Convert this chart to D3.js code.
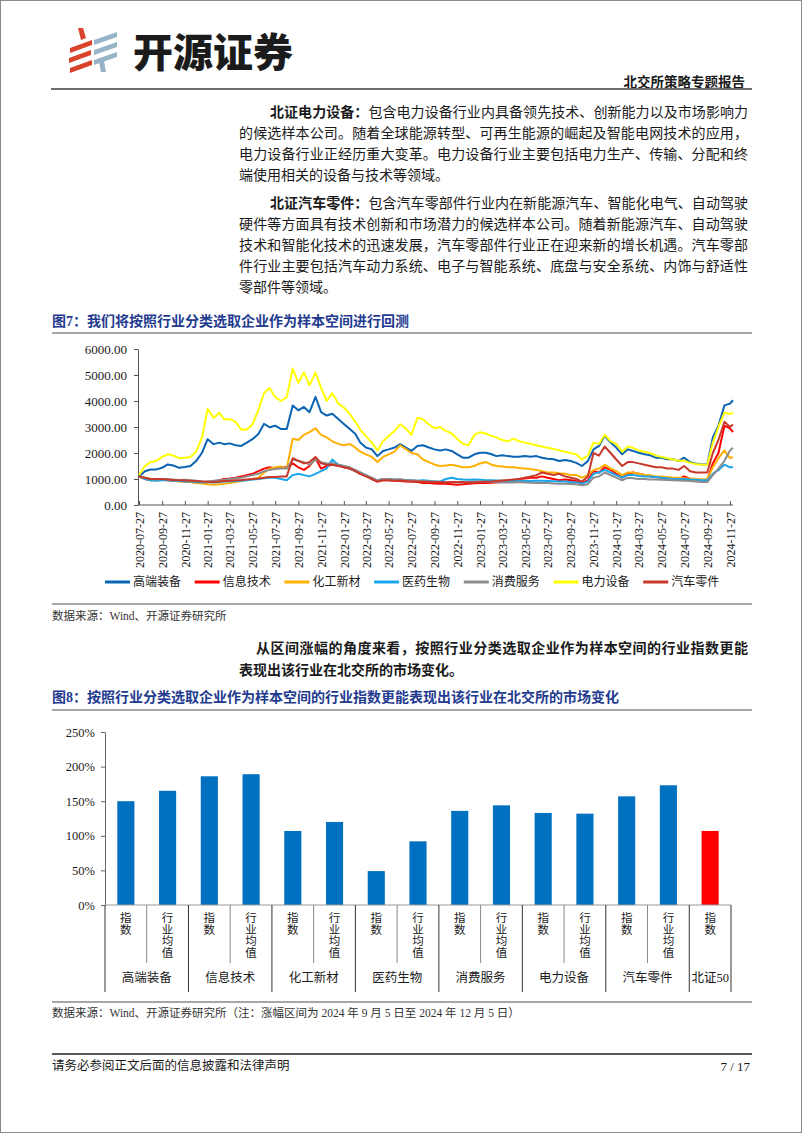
<!DOCTYPE html>
<html><head><meta charset="utf-8">
<script src="https://cdn.jsdelivr.net/npm/d3@7"></script>
<style>
html,body{margin:0;padding:0;background:#fff;}
svg{display:block;}
</style></head><body>
<svg id="page" width="802" height="1133"></svg>
<script>
// ---------------- DATA ----------------
const lineSeriesNames = ["高端装备","信息技术","化工新材","医药生物","消费服务","电力设备","汽车零件"];
const lineYTicks = [0,1000,2000,3000,4000,5000,6000];
const lineXTicks = ["2020-07-27","2020-09-27","2020-11-27","2021-01-27","2021-03-27","2021-05-27","2021-07-27","2021-09-27","2021-11-27",
  "2022-01-27","2022-03-27","2022-05-27","2022-07-27","2022-09-27","2022-11-27","2023-01-27","2023-03-27","2023-05-27","2023-07-27",
  "2023-09-27","2023-11-27","2024-01-27","2024-03-27","2024-05-27","2024-07-27","2024-09-27","2024-11-27"];
// observation dates: the 27th and the 12th of each month, 2020-07-27 .. 2024-11-27, plus 2024-12-05
const obsDates = [];
for (let m = 0; m <= 52; m++) {
  obsDates.push(new Date(2020, 6 + m, 27));
  if (m < 52) obsDates.push(new Date(2020, 7 + m, 12));
}
obsDates.push(new Date(2024, 11, 5));

const gaoduan = [1100,1300,1365,1370,1430,1560,1520,1430,1460,1500,
  1690,2010,2530,2340,2400,2340,2370,2300,2270,2400,
  2530,2730,3120,2990,3050,2920,2920,3830,3640,3770,
  3570,4160,3570,3440,3510,3310,3120,2920,2730,2400,
  2210,2140,1880,2080,2140,2210,2340,2210,2080,2270,
  2300,2210,2140,2100,2140,2080,1950,1820,1820,1950,
  2010,2010,1950,1880,1910,1880,1860,1860,1880,1860,
  1880,1820,1780,1760,1690,1730,1690,1620,1500,1690,
  2140,2270,2660,2400,2210,1950,2140,2080,2010,1950,
  1910,1820,1820,1760,1760,1690,1820,1650,1600,1560,
  1560,2600,3050,3830,3900,4030];
const xinxi = [1100,1000,950,960,970,950,930,920,900,880,
  860,850,870,900,950,1000,1020,1050,1100,1150,
  1200,1300,1400,1450,1400,1450,1450,1600,1450,1350,
  1500,1800,1400,1500,1550,1550,1450,1400,1300,1200,
  1150,1000,900,950,950,930,920,900,900,880,
  850,850,830,820,820,800,780,800,820,840,
  850,850,860,870,880,900,950,1000,1020,1050,
  1050,1100,1050,1000,950,980,950,920,850,950,
  1300,1250,1450,1350,1200,1050,1200,1250,1200,1150,
  1100,1080,1050,1050,1020,1000,1100,1000,980,960,
  960,1600,2000,3050,2950,2800];
const huagong = [1100,1000,950,950,980,950,950,900,900,880,
  850,830,800,780,800,820,850,880,920,960,
  1000,1050,1250,1400,1450,1480,1400,2550,2500,2700,
  2800,2950,2700,2600,2450,2350,2300,2350,2200,2050,
  1950,1850,1650,1850,1950,2050,2300,2150,2000,1950,
  1750,1650,1550,1500,1520,1550,1500,1450,1450,1500,
  1600,1650,1550,1500,1480,1450,1450,1420,1400,1380,
  1350,1300,1250,1250,1220,1200,1150,1150,1050,1150,
  1350,1400,1550,1400,1300,1150,1250,1250,1200,1150,
  1150,1100,1100,1080,1050,1050,1030,1020,1000,980,
  1000,1450,1800,2100,1800,1850];
const yiyao = [1100,1000,950,930,950,950,930,920,900,900,
  880,870,880,870,880,900,900,920,930,950,
  980,1000,1030,1050,1050,1000,950,1150,1200,1150,
  1100,1200,1300,1400,1750,1550,1500,1400,1300,1250,
  1150,1000,950,1000,1000,980,980,950,950,930,
  950,930,900,900,1000,1050,1000,980,970,980,
  970,950,950,940,930,920,920,920,920,920,
  930,930,920,910,900,900,880,870,830,900,
  1200,1250,1350,1250,1150,1050,1150,1150,1120,1100,
  1100,1080,1050,1030,1000,1000,1000,980,970,950,
  950,1200,1350,1550,1450,1450];
const xiaofei = [1100,1050,1000,980,1000,990,980,950,970,950,
  930,900,900,930,950,970,1000,1030,1050,1100,
  1150,1200,1300,1350,1380,1400,1400,1750,1700,1650,
  1550,1750,1650,1600,1600,1550,1500,1450,1350,1250,
  1150,1050,950,1000,1000,980,980,960,950,930,
  920,910,900,880,880,880,870,870,880,890,
  900,890,880,880,870,870,870,880,870,860,
  850,850,850,830,820,820,810,800,760,800,
  1050,1100,1250,1150,1050,950,1050,1030,1000,1000,
  980,980,970,960,950,940,930,920,900,880,
  880,1150,1400,1700,2100,2200];
const dianli = [1150,1500,1650,1700,1850,1950,1900,1800,1820,1850,
  2050,2600,3700,3350,3550,3300,3300,3200,2900,2900,
  3100,3650,4300,4500,4150,4000,4150,5250,4700,5100,
  4600,5100,4500,4000,4300,3900,3750,3500,3200,2900,
  2650,2400,2100,2450,2650,2850,3100,2950,2700,3350,
  3300,3100,2950,3000,2850,2750,2550,2350,2300,2700,
  2800,2750,2650,2600,2500,2450,2550,2450,2400,2350,
  2300,2250,2200,2150,2100,2050,2000,1950,1750,1900,
  2400,2350,2700,2450,2350,2050,2250,2200,2100,2050,
  2000,1900,1850,1800,1750,1700,1700,1620,1580,1550,
  1550,2400,3000,3550,3500,3550];
const qiche = [1100,1050,1000,1000,1000,980,960,950,940,930,
  920,900,890,880,900,920,930,950,960,980,
  1000,1020,1050,1080,1080,1100,1100,1800,1700,1600,
  1650,1850,1600,1550,1550,1500,1450,1400,1300,1200,
  1100,1000,900,950,950,930,940,920,900,900,
  890,880,880,880,870,880,880,880,870,870,
  880,890,900,920,940,960,980,1000,1050,1100,
  1150,1250,1200,1150,1200,1100,1050,1000,900,1100,
  2000,1900,2250,2000,1750,1500,1650,1650,1600,1550,
  1500,1450,1450,1400,1400,1350,1500,1300,1250,1250,
  1250,2000,2500,3200,3000,3100];
const lineSeries = [gaoduan, xinxi, huagong, yiyao, xiaofei, dianli, qiche];

const barGroups = ["高端装备","信息技术","化工新材","医药生物","消费服务","电力设备","汽车零件","北证50"];
const barSubLabels = ["指数","行业均值"];
const indexGains = [150,186,107,49,136,133,157];
const industryAvgGains = [165,189,120,92,144,132,173];
const bz50Gain = 107;
const barYTicks = [0,50,100,150,200,250];

// ---------------- STYLES ----------------
const lineColors = ["#0a64b4","#ff0000","#ffb000","#1aa6ea","#8c8c8c","#ffff00","#c8392b"];
const SERIF = "'Liberation Serif','Times New Roman','Noto Sans CJK SC',serif";
const CJK = "'Noto Sans CJK SC','Liberation Serif',sans-serif";
const titleBlue = "#1f3b8f";

const svg = d3.select("#page").style("font-family", SERIF);
svg.append("rect").attr("x",0.5).attr("y",0.5).attr("width",801).attr("height",1132)
  .attr("fill","#fff").attr("stroke","#8a8a8a");

function text(x, y, str, o = {}) {
  const t = svg.append("text").attr("x", x).attr("y", y)
    .attr("dominant-baseline", "central")
    .style("font-size", (o.size || 14) + "px")
    .style("font-weight", o.bold ? "bold" : "normal")
    .style("fill", o.color || "#1a1a1a")
    .attr("text-anchor", o.anchor || "start");
  if (o.family) t.style("font-family", o.family);
  if (Array.isArray(str)) {
    str.forEach(p => t.append("tspan").text(p[0]).style("font-weight", p[1] ? "bold" : "normal"));
  } else t.text(str);
  if (o.width) t.attr("textLength", o.width).attr("lengthAdjust", "spacing");
  return t;
}
function hline(x1, x2, y, color, w) {
  svg.append("line").attr("x1",x1).attr("x2",x2).attr("y1",y).attr("y2",y)
    .attr("stroke",color).attr("stroke-width",w);
}

// ---------------- HEADER ----------------
const logo = svg.append("g");
const red = "#d9432c", steel = "#97b4c6";
[[70,48],[69,58],[70,68]].forEach(([x,y]) => {
  logo.append("path").attr("d", `M${x},${y} L${x+22},${y-8} L${x+22},${y-3} L${x},${y+5} Z`).attr("fill", red);
});
logo.append("path").attr("d","M78,28 L83,28 L86,38 L81,40 Z").attr("fill", red);
[[94,40],[94,50],[94,60]].forEach(([x,y]) => {
  logo.append("path").attr("d", `M${x},${y} L${x+23},${y-8} L${x+23},${y-3} L${x},${y+5} Z`).attr("fill", steel);
});
logo.append("path").attr("d","M99,62 L104,61 L106,72 L101,72 Z").attr("fill", steel);
text(133, 50, "开源证券", {size: 40, bold: true, family: CJK, color: "#1b1b1b"}).style("font-weight", 900);
text(745, 82, "北交所策略专题报告", {size: 13.5, bold: true, anchor: "end"});
hline(51, 752, 89, "#6e6e6e", 2);

// ---------------- PARAGRAPHS ----------------
const colL = 239, colR = 748, ind = 270, lh = 21;
const p1 = 112, p2 = 203;
text(ind, p1, [["北证电力设备：",1],["包含电力设备行业内具备领先技术、创新能力以及市场影响力",0]], {width: colR-ind});
text(colL, p1 + lh, "的候选样本公司。随着全球能源转型、可再生能源的崛起及智能电网技术的应用，", {width: colR-colL});
text(colL, p1 + 2*lh, "电力设备行业正经历重大变革。电力设备行业主要包括电力生产、传输、分配和终", {width: colR-colL});
text(colL, p1 + 3*lh, "端使用相关的设备与技术等领域。");
text(ind, p2, [["北证汽车零件：",1],["包含汽车零部件行业内在新能源汽车、智能化电气、自动驾驶",0]], {width: colR-ind});
text(colL, p2 + lh, "硬件等方面具有技术创新和市场潜力的候选样本公司。随着新能源汽车、自动驾驶", {width: colR-colL});
text(colL, p2 + 2*lh, "技术和智能化技术的迅速发展，汽车零部件行业正在迎来新的增长机遇。汽车零部", {width: colR-colL});
text(colL, p2 + 3*lh, "件行业主要包括汽车动力系统、电子与智能系统、底盘与安全系统、内饰与舒适性", {width: colR-colL});
text(colL, p2 + 4*lh, "零部件等领域。");

// ---------------- FIGURE 7 ----------------
text(52, 321, "图7：我们将按照行业分类选取企业作为样本空间进行回测", {size: 14, bold: true, color: titleBlue});
hline(52, 752, 333, "#8a8a8a", 1.5);

const xL = d3.scaleTime().domain([new Date(2020,6,27), new Date(2024,11,5)]).range([139, 733]);
const yL = d3.scaleLinear().domain([0, 6000]).range([505, 349]);
const parseD = d3.timeParse("%Y-%m-%d");

const gy = svg.append("g").attr("transform","translate(138,0)")
  .call(d3.axisLeft(yL).tickValues(lineYTicks).tickFormat(d3.format(".2f")).tickSize(4).tickPadding(7).tickSizeOuter(0));
gy.select(".domain").attr("stroke","#555");
gy.selectAll(".tick line").attr("stroke","#555");
gy.selectAll("text").style("font-family", SERIF).style("font-size","13px").attr("fill","#1a1a1a");

const gx = svg.append("g").attr("transform","translate(0,505)")
  .call(d3.axisBottom(xL).tickValues(lineXTicks.map(parseD)).tickFormat((d,i) => lineXTicks[i]).tickSizeInner(-4).tickSizeOuter(0));
gx.select(".domain").remove();
gx.selectAll(".tick line").attr("stroke","#555");
gx.selectAll("text").style("font-family", SERIF).style("font-size","12px").attr("fill","#1a1a1a")
  .attr("transform","rotate(-90)").attr("x",-7).attr("y",0).attr("dy","0.35em").style("text-anchor","end");
hline(138, 733, 505, "#555", 1);

const lineGen = d3.line().x((d,i) => xL(obsDates[i])).y(d => yL(d));
lineSeries.forEach((s, k) => {
  svg.append("path").datum(s).attr("d", lineGen).attr("fill","none")
    .attr("stroke", lineColors[k]).attr("stroke-width", 2).attr("stroke-linejoin","round");
});

// legend
lineSeriesNames.forEach((n, k) => {
  const lx = 105 + k * 89.7;
  svg.append("line").attr("x1", lx).attr("x2", lx + 25).attr("y1", 582).attr("y2", 582)
    .attr("stroke", lineColors[k]).attr("stroke-width", 3);
  text(lx + 28, 582, n, {size: 12});
});
hline(52, 752, 604, "#8a8a8a", 1.5);
text(52, 616, "数据来源：Wind、开源证券研究所", {size: 11.5, color: "#333"});

// ---------------- MIDDLE PARAGRAPH ----------------
text(256, 648, "从区间涨幅的角度来看，按照行业分类选取企业作为样本空间的行业指数更能", {bold: true, width: colR - 256});
text(colL, 670, "表现出该行业在北交所的市场变化。", {bold: true});

// ---------------- FIGURE 8 ----------------
text(52, 697, "图8：按照行业分类选取企业作为样本空间的行业指数更能表现出该行业在北交所的市场变化", {size: 14, bold: true, color: titleBlue});
hline(52, 752, 710, "#8a8a8a", 1.5);

const barVals = [];
indexGains.forEach((v, g) => { barVals.push({v: v, sub: 0}); barVals.push({v: industryAvgGains[g], sub: 1}); });
barVals.push({v: bz50Gain, sub: 0, hl: true});

const xB = d3.scaleBand().domain(d3.range(barVals.length)).range([105, 731]).paddingInner(0.59).paddingOuter(0.295);
const yB = d3.scaleLinear().domain([0, 250]).range([905, 732]);
const step = xB.step();
const boundary = i => 105 + i * step;

const gyB = svg.append("g").attr("transform","translate(105,0)")
  .call(d3.axisLeft(yB).tickValues(barYTicks).tickFormat(d => d + "%").tickSize(4).tickPadding(6).tickSizeOuter(0));
gyB.select(".domain").attr("stroke","#666");
gyB.selectAll(".tick line").attr("stroke","#666");
gyB.selectAll("text").style("font-family", SERIF).style("font-size","12.5px").attr("fill","#1a1a1a");

svg.append("g").selectAll("rect").data(barVals).join("rect")
  .attr("x", (d,i) => xB(i)).attr("width", xB.bandwidth())
  .attr("y", d => yB(d.v)).attr("height", d => yB(0) - yB(d.v))
  .attr("fill", d => d.hl ? "#ff0000" : "#0070c0");

hline(105, 731, 905, "#999", 1.2);
// separators
for (let i = 0; i <= barVals.length; i++) {
  const major = (i % 2 === 0) || i === barVals.length;
  svg.append("line").attr("x1", boundary(i)).attr("x2", boundary(i))
    .attr("y1", 905).attr("y2", major ? 992 : 963)
    .attr("stroke", major ? "#333" : "#888").attr("stroke-width", 1);
}
// vertical sub-labels (vertical writing, upright characters)
barVals.forEach((d, i) => {
  const cx = xB(i) + xB.bandwidth() / 2;
  svg.append("text").attr("x", cx).attr("y", 912)
    .style("writing-mode", "vertical-rl").style("text-orientation", "upright")
    .style("font-family", CJK).style("font-size", "11.5px").style("fill", "#1a1a1a")
    .text(barSubLabels[d.sub]);
});
barGroups.forEach((n, g) => {
  const span = g < 7 ? [boundary(2*g), boundary(2*g+2)] : [boundary(14), boundary(15)];
  text((span[0] + span[1]) / 2, 978, n, {size: 12.5, anchor: "middle"});
});
hline(52, 752, 1002, "#8a8a8a", 1.5);
text(52, 1013, "数据来源：Wind、开源证券研究所（注：涨幅区间为 2024 年 9 月 5 日至 2024 年 12 月 5 日）", {size: 11.5, color: "#333"});

// ---------------- FOOTER ----------------
hline(52, 752, 1054, "#222", 1.5);
text(52, 1066, "请务必参阅正文后面的信息披露和法律声明", {size: 12.5});
text(750, 1066, "7 / 17", {size: 13, anchor: "end"});
</script>
</body></html>
